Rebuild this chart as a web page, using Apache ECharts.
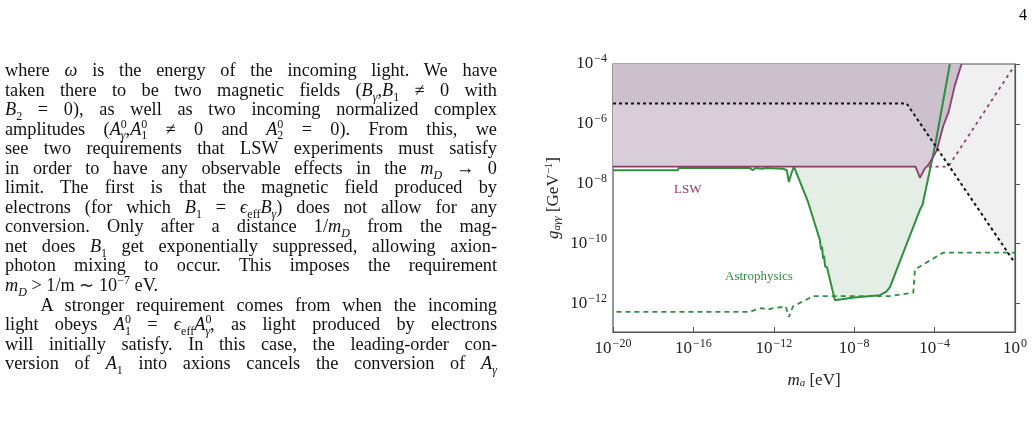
<!DOCTYPE html>
<html>
<head>
<meta charset="utf-8">
<script src="https://cdn.jsdelivr.net/npm/echarts@6/dist/echarts.min.js"></script>
<style>
  body { margin: 0; background: #fff; }
  #page { position: relative; width: 1033px; height: 424px; overflow: hidden; }
  #chart { position: absolute; left: 0; top: 0; width: 1033px; height: 424px; }
  #text { position: absolute; left: 5px; top: 61px; width: 492px; font-family: "Liberation Serif", serif; font-size: 18.3px; line-height: 19.55px; color: #111; }
  #text div { text-align: justify; text-align-last: justify; white-space: nowrap; }
  #text div.last { text-align-last: left; }
  #text i { font-style: italic; }
  sub, sup { font-size: 12px; line-height: 0; }
  #pnum { position: absolute; right: 6px; top: 6px; font-family: "Liberation Serif", serif; font-size: 16px; }
</style>
</head>
<body>
<div id="page">
  <div id="chart"></div>
  <div id="pnum">4</div>
  <div id="text">
    <div>where <i>ω</i> is the energy of the incoming light. We have</div>
    <div>taken there to be two magnetic fields (<i>B<sub>γ</sub></i>,<i>B</i><sub>1</sub> ≠ 0 with</div>
    <div><i>B</i><sub>2</sub> = 0), as well as two incoming normalized complex</div>
    <div>amplitudes (<i>A</i><sup>0</sup><sub style="margin-left:-6px"><i>γ</i></sub>,<i>A</i><sup>0</sup><sub style="margin-left:-6px">1</sub> ≠ 0 and <i>A</i><sup>0</sup><sub style="margin-left:-6px">2</sub> = 0). From this, we</div>
    <div>see two requirements that LSW experiments must satisfy</div>
    <div>in order to have any observable effects in the <i>m<sub>D</sub></i> → 0</div>
    <div>limit. The first is that the magnetic field produced by</div>
    <div>electrons (for which <i>B</i><sub>1</sub> = <i>ϵ</i><sub>eff</sub><i>B<sub>γ</sub></i>) does not allow for any</div>
    <div>conversion. Only after a distance 1/<i>m<sub>D</sub></i> from the mag-</div>
    <div>net does <i>B</i><sub>1</sub> get exponentially suppressed, allowing axion-</div>
    <div>photon mixing to occur. This imposes the requirement</div>
    <div class="last"><i>m<sub>D</sub></i> &gt; 1/m ∼ 10<sup>−7</sup> eV.</div>
    <div>&nbsp;&nbsp;&nbsp;A stronger requirement comes from when the incoming</div>
    <div>light obeys <i>A</i><sup>0</sup><sub style="margin-left:-6px">1</sub> = <i>ϵ</i><sub>eff</sub><i>A</i><sup>0</sup><sub style="margin-left:-6px"><i>γ</i></sub>, as light produced by electrons</div>
    <div>will initially satisfy. In this case, the leading-order con-</div>
    <div>version of <i>A</i><sub>1</sub> into axions cancels the conversion of <i>A<sub>γ</sub></i></div>
  </div>
</div>
<script>
// all values are log10 of m_a [eV] and g_aγγ [GeV^-1]
var xTicks = [-20, -16, -12, -8, -4, 0];
var yTicks = [-12, -10, -8, -6, -4];

var lswX = [-20, -4.95, -4.73, -4.5, -4.3, -3.9, -3.57, -3.3, -3.0, -2.66];
var lswY = [-7.43, -7.43, -7.8, -7.5, -7.36, -6.9, -6.07, -5.6, -4.73, -4.0];

var lswDashX = [-4.3, -3.32, -0.08];
var lswDashY = [-7.43, -7.43, -4.11];

var uvX = [-20, -5.39, -0.08];
var uvY = [-5.32, -5.32, -10.57];

var astroX = [-20, -16.76, -16.74, -13.2, -13.05, -12.9, -12.6, -12.4, -11.54, -11.35, -11.25, -11.1, -11.0, -10.3, -9.71, -9.65, -9.6, -9.55, -9.5, -9.45, -9.35, -8.96, -8.0, -6.72, -6.4, -6.22, -5.5, -4.73, -4.6, -3.98, -3.24];
var astroY = [-7.55, -7.55, -7.47, -7.47, -7.55, -7.47, -7.5, -7.47, -7.5, -7.55, -7.94, -7.6, -7.43, -8.6, -9.87, -10.2, -10.1, -10.5, -10.4, -10.75, -10.8, -11.89, -11.8, -11.72, -11.6, -11.45, -10.2, -8.87, -8.7, -6.74, -4.0];

var astroFillX = [-11.0, -10.3, -9.71, -9.65, -9.55, -9.45, -9.35, -8.96, -8.0, -6.72, -6.4, -6.22, -5.5, -4.73, -4.6, -4.2];
var astroFillY = [-7.43, -8.6, -9.87, -10.2, -10.5, -10.75, -10.8, -11.89, -11.8, -11.72, -11.6, -11.45, -10.2, -8.87, -8.7, -7.43];

var astroDashX = [-19.83, -13.2, -12.9, -12.6, -12.3, -12.0, -11.4, -11.25, -11.05, -10.04, -6.22, -5.06, -4.98, -3.57, 0];
var astroDashY = [-12.28, -12.28, -12.2, -12.15, -12.2, -12.15, -12.1, -12.45, -12.1, -11.75, -11.75, -11.64, -10.86, -10.3, -10.3];

function pairs(xs, ys) { return xs.map(function (x, i) { return [x, ys[i]]; }); }

var serif = '"Liberation Serif", serif';
var green = '#2f8f3f';
var purple = '#8e3d68';

var chart = echarts.init(document.getElementById('chart'), null, { renderer: 'canvas' });

function powLabel(v) {
  var s = (v < 0 ? '−' : '') + Math.abs(v);
  return '{b|10}{s|' + s + '}';
}
var powRich = {
  b: { fontFamily: serif, fontSize: 17, color: '#222' },
  s: { fontFamily: serif, fontSize: 12, color: '#222', padding: [0, 0, 10, 1] }
};

chart.setOption({
  animation: false,
  grid: { left: 613, right: 18, top: 64, bottom: 92, show: true, borderColor: '#555', borderWidth: 1.2, containLabel: false },
  xAxis: {
    type: 'value', min: -20, max: 0, position: 'bottom',
    name: '{i|m}{sub|a} [eV]', nameLocation: 'middle', nameGap: 40,
    nameTextStyle: { rich: {
      i: { fontFamily: serif, fontStyle: 'italic', fontSize: 17, color: '#222' },
      sub: { fontFamily: serif, fontStyle: 'italic', fontSize: 11, color: '#222', padding: [6, 0, 0, 0] }
    }, fontFamily: serif, fontSize: 17, color: '#222' },
    axisLine: { lineStyle: { color: '#555', width: 1.2 } },
    axisTick: { inside: true, length: 5, customValues: xTicks, lineStyle: { color: '#555' } },
    axisLabel: { customValues: xTicks, formatter: powLabel, rich: powRich, margin: 6 },
    splitLine: { show: false }
  },
  yAxis: {
    type: 'value', min: -12.95, max: -4, position: 'left',
    name: '{i|g}{sub|aγγ} [GeV{sup|−1}]', nameLocation: 'middle', nameGap: 50, nameRotate: 90,
    nameTextStyle: { rich: {
      i: { fontFamily: serif, fontStyle: 'italic', fontSize: 17, color: '#222' },
      sub: { fontFamily: serif, fontStyle: 'italic', fontSize: 11, color: '#222', padding: [8, 0, 0, 0] },
      sup: { fontFamily: serif, fontSize: 11, color: '#222', padding: [0, 0, 8, 0] }
    }, fontFamily: serif, fontSize: 17, color: '#222' },
    axisLine: { lineStyle: { color: '#555', width: 1.2 } },
    axisTick: { inside: true, length: 5, customValues: yTicks, lineStyle: { color: '#555' } },
    axisLabel: { customValues: yTicks, formatter: powLabel, rich: powRich, margin: 6 },
    splitLine: { show: false }
  },
  graphic: [
    { type: 'text', left: 642, top: 85, style: { text: 'UV Completion', font: '13px ' + serif, fill: '#222' } },
    { type: 'text', left: 674, top: 183, style: { text: 'LSW', font: '13px ' + serif, fill: purple } },
    { type: 'text', left: 725, top: 270, style: { text: 'Astrophysics', font: '13px ' + serif, fill: green } }
  ],
  series: [
    { type: 'line', data: pairs(astroFillX, astroFillY), showSymbol: false, lineStyle: { width: 0 },
      areaStyle: { origin: 'end', color: '#e4eee4', opacity: 1 }, z: 1 },
    { type: 'line', data: pairs(lswX, lswY), showSymbol: false, lineStyle: { width: 0 },
      areaStyle: { origin: 'end', color: '#d8cdd8', opacity: 1 }, z: 2 },
    { type: 'line', data: pairs(uvX, uvY), showSymbol: false, lineStyle: { width: 0 },
      areaStyle: { origin: 'end', color: 'rgba(0,0,0,0.06)', opacity: 1 }, z: 3 },
    { type: 'line', data: pairs(astroX, astroY), showSymbol: false, lineStyle: { color: green, width: 2 }, z: 5 },
    { type: 'line', data: pairs(astroDashX, astroDashY), showSymbol: false, lineStyle: { color: green, width: 1.8, type: [5, 4] }, z: 5 },
    { type: 'line', data: pairs(lswX, lswY), showSymbol: false, lineStyle: { color: purple, width: 1.8 }, z: 6 },
    { type: 'line', data: pairs(lswDashX, lswDashY), showSymbol: false, lineStyle: { color: purple, width: 1.8, type: [3, 4] }, z: 6 },
    { type: 'line', data: pairs(uvX, uvY), showSymbol: false, lineStyle: { color: '#111', width: 2, type: [3, 3] }, z: 7 }
  ]
});
</script>
</body>
</html>
